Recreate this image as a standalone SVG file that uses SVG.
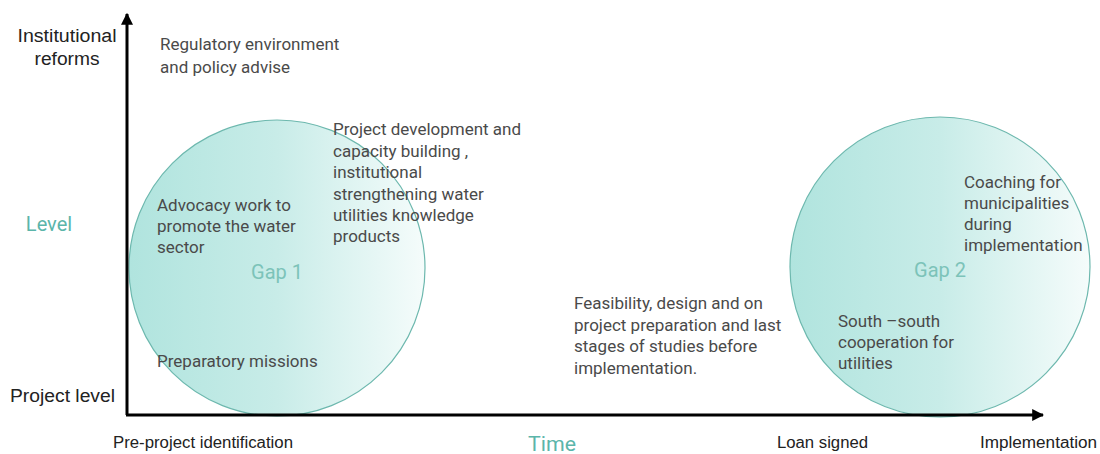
<svg xmlns="http://www.w3.org/2000/svg" width="1100" height="454" viewBox="0 0 1100 454">
<defs>
<linearGradient id="gfill" x1="0" y1="0" x2="1" y2="0">
<stop offset="0" stop-color="#b0e4de"/>
<stop offset="0.5" stop-color="#c8ece8"/>
<stop offset="1" stop-color="#f5fcfb"/>
</linearGradient>
<marker id="ah" viewBox="0 0 10 10" refX="9" refY="5" markerWidth="4" markerHeight="4" orient="auto" markerUnits="strokeWidth">
<path d="M0,0 L10,5 L0,10 z" fill="#000"/>
</marker>
<style>
.body{font-family:Roboto,"Liberation Sans",sans-serif;font-size:17px;fill:#4a4a4a;}
.ax{font-family:"Liberation Sans",Arial,sans-serif;font-size:18px;fill:#222;}
.axs{font-family:"Liberation Sans",Arial,sans-serif;font-size:16px;fill:#222;}
.teal{font-family:Roboto,"Liberation Sans",sans-serif;fill:#5bb5aa;}
.gapt{font-family:Roboto,"Liberation Sans",sans-serif;fill:#7cc3b9;font-size:20px;}
.gap{fill:url(#gfill);stroke:#6db8ae;stroke-width:1.2;}
.axis{stroke:#000;stroke-width:3;fill:none;}
</style>
</defs>
<rect width="1100" height="454" fill="#fff"/>
<g id="gap1">
<circle class="gap" cx="277" cy="268" r="148"/>
<text class="gapt" x="277" y="279" text-anchor="middle">Gap 1</text>
</g>
<g id="gap2">
<circle class="gap" cx="940" cy="267" r="150"/>
<text class="gapt" x="940" y="277" text-anchor="middle">Gap 2</text>
</g>
<g id="connectors">
<line class="axis" x1="127" y1="415" x2="127" y2="14" marker-end="url(#ah)"/>
<line class="axis" x1="126" y1="415" x2="1043" y2="415" marker-end="url(#ah)"/>
</g>
<g id="axis-labels">
<text class="ax" x="67" y="42" text-anchor="middle" textLength="99" lengthAdjust="spacingAndGlyphs">Institutional</text>
<text class="ax" x="67" y="65" text-anchor="middle" textLength="65" lengthAdjust="spacingAndGlyphs">reforms</text>
<text class="teal" x="49" y="231" font-size="20" text-anchor="middle">Level</text>
<text class="ax" x="10" y="402" textLength="105" lengthAdjust="spacingAndGlyphs">Project level</text>
<text class="axs" x="113" y="448" textLength="180" lengthAdjust="spacingAndGlyphs">Pre-project identification</text>
<text class="teal" x="552" y="451" font-size="20" text-anchor="middle" textLength="48" lengthAdjust="spacingAndGlyphs">Time</text>
<text class="axs" x="777" y="448" textLength="91" lengthAdjust="spacingAndGlyphs">Loan signed</text>
<text class="axs" x="980" y="448" textLength="117" lengthAdjust="spacingAndGlyphs">Implementation</text>
</g>
<g id="regulatory">
<text class="body" x="160" y="50">Regulatory environment</text>
<text class="body" x="160" y="73">and policy advise</text>
</g>
<g id="project-development">
<text class="body" x="333" y="135">Project development and</text>
<text class="body" x="333" y="157">capacity building ,</text>
<text class="body" x="333" y="178">institutional</text>
<text class="body" x="333" y="200">strengthening water</text>
<text class="body" x="333" y="221">utilities knowledge</text>
<text class="body" x="333" y="242">products</text>
</g>
<g id="advocacy">
<text class="body" x="157" y="211">Advocacy work to</text>
<text class="body" x="157" y="232">promote the water</text>
<text class="body" x="157" y="253">sector</text>
</g>
<g id="preparatory">
<text class="body" x="157" y="367">Preparatory missions</text>
</g>
<g id="feasibility">
<text class="body" x="574" y="309">Feasibility, design and on</text>
<text class="body" x="574" y="331">project preparation and last</text>
<text class="body" x="574" y="352">stages of studies before</text>
<text class="body" x="574" y="374">implementation.</text>
</g>
<g id="south-south">
<text class="body" x="838" y="327">South –south</text>
<text class="body" x="838" y="348">cooperation for</text>
<text class="body" x="838" y="369">utilities</text>
</g>
<g id="coaching">
<text class="body" x="964" y="188">Coaching for</text>
<text class="body" x="964" y="209">municipalities</text>
<text class="body" x="964" y="230">during</text>
<text class="body" x="964" y="251">implementation</text>
</g>
</svg>
